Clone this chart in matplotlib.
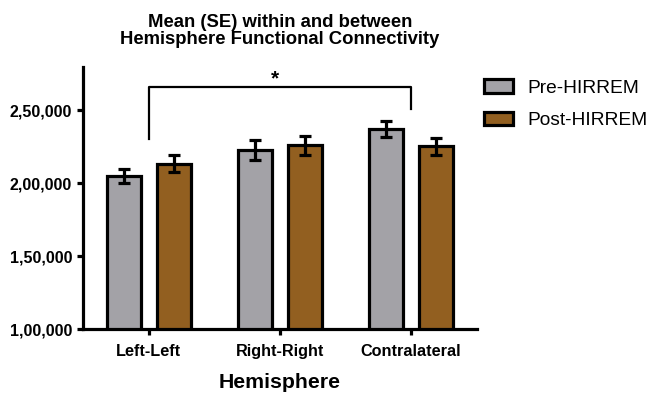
import numpy as np
import matplotlib
matplotlib.use("Agg")
import matplotlib.pyplot as plt
from matplotlib.patches import Patch
from matplotlib.ticker import FuncFormatter

plt.rcParams['font.family'] = ['Liberation Sans', 'DejaVu Sans']

# donnees
groupes = ["Left-Left", "Right-Right", "Contralateral"]
series = ["Pre-HIRREM", "Post-HIRREM"]
moy_pre = [205200, 223100, 237400]
se_pre = [5000, 6900, 5700]
moy_post = [213600, 226000, 225300]
se_post = [6100, 6600, 5600]
couleurs = ["#A3A2A7", "#925F20"]

# crochet de significativite (groupe 0 vs groupe 2)
paire_sig = (0, 2)
hauteur_crochet = 266000
bas_branches = [230500, 251300]
etiquette_sig = "*"


def format_indien(v, pos):
    s = str(int(round(v)))
    if len(s) <= 3:
        return s
    fin = s[-3:]
    debut = s[:-3]
    morceaux = []
    while len(debut) > 2:
        morceaux.insert(0, debut[-2:])
        debut = debut[:-2]
    if debut:
        morceaux.insert(0, debut)
    return ",".join(morceaux) + "," + fin


fig = plt.figure(figsize=(6.49, 3.96), dpi=100)
ax = fig.add_axes([0.1284, 0.1684, 0.6061, 0.6632])

x = np.arange(len(groupes))
largeur = 0.26
decal = 0.19
lw = 2.3

for moy, se, c, d, nom in [(moy_pre, se_pre, couleurs[0], -decal, series[0]),
                           (moy_post, se_post, couleurs[1], decal, series[1])]:
    ax.bar(x + d, moy, width=largeur, color=c, edgecolor="black", linewidth=lw, label=nom, zorder=2)
    ax.errorbar(x + d, moy, yerr=se, fmt="none", ecolor="black", elinewidth=lw,
                capsize=4.5, capthick=lw, zorder=3)

ax.set_xlim(-0.5, 2.5)
ax.set_ylim(100000, 280000)
ax.set_yticks([100000, 150000, 200000, 250000])
ax.yaxis.set_major_formatter(FuncFormatter(format_indien))
ax.set_xticks(x)
ax.set_xticklabels(groupes, fontsize=11.7, fontweight="bold")
for lab in ax.get_yticklabels():
    lab.set_fontsize(11.5)
    lab.set_fontweight("bold")

for s in ["top", "right"]:
    ax.spines[s].set_visible(False)
for s in ["left", "bottom"]:
    ax.spines[s].set_linewidth(lw)
ax.tick_params(axis="both", direction="out", width=lw, length=4.5)
ax.tick_params(axis="x", pad=6)

ax.set_xlabel("Hemisphere", fontsize=15.3, fontweight="bold", labelpad=10)
ax.set_title("Mean (SE) within and between\nHemisphere Functional Connectivity",
             fontsize=13.3, fontweight="bold", pad=16, linespacing=1.0)

# crochet
xa, xb = x[paire_sig[0]], x[paire_sig[1]]
ax.plot([xa, xa, xb, xb], [bas_branches[0], hauteur_crochet, hauteur_crochet, bas_branches[1]],
        color="black", linewidth=1.6, clip_on=False, zorder=4)
ax.text((xa + xb) / 2 - 0.04, hauteur_crochet + 5500, etiquette_sig, ha="center", va="center",
        fontsize=15, fontweight="bold")

poignees = [Patch(facecolor=couleurs[0], edgecolor="black", linewidth=lw),
            Patch(facecolor=couleurs[1], edgecolor="black", linewidth=lw)]
fig.legend(poignees, series, loc="upper left", bbox_to_anchor=(0.745, 0.80),
           frameon=False, fontsize=13.8, handlelength=1.55, handleheight=0.7,
           handletextpad=0.75, labelspacing=0.8, borderpad=0, borderaxespad=0)

fig.savefig("out.png", dpi=100)
